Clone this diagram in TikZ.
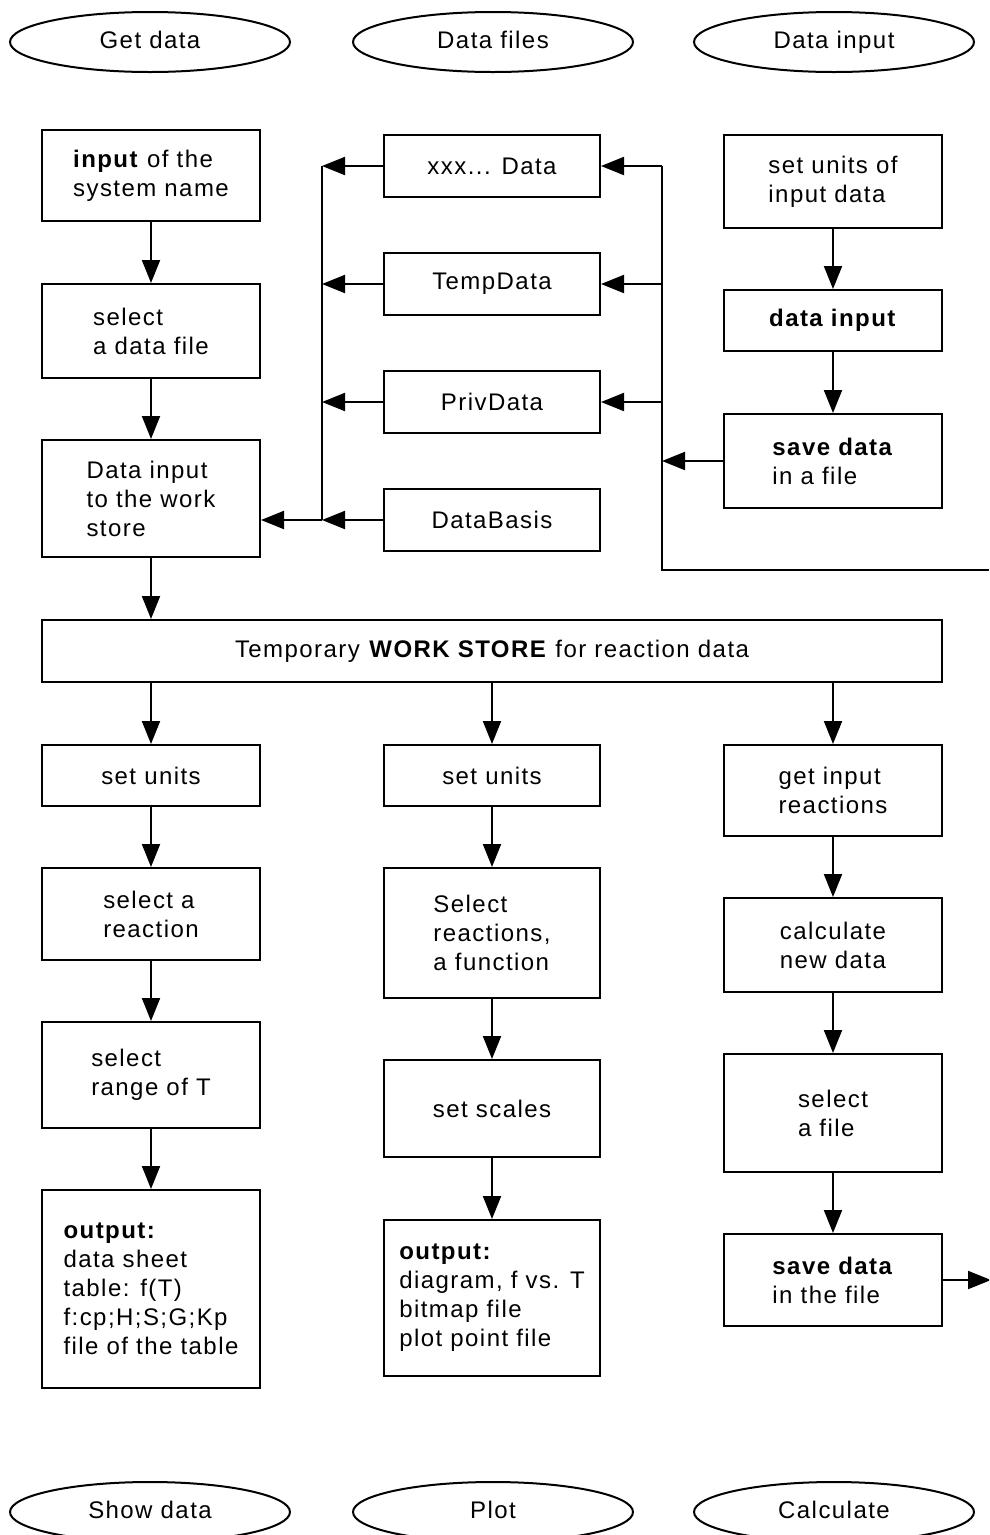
\documentclass[tikz,border=0pt]{standalone}
\usepackage{fontspec}
\setmainfont[LetterSpace=6]{Liberation Sans}
\usetikzlibrary{arrows.meta,shapes.geometric}

\begin{document}
\begin{tikzpicture}[x=1pt, y=-1pt, line width=2pt,
    box/.style={draw, rectangle, minimum width=218pt, inner sep=0pt, align=left,
        font=\fontsize{24}{29}\selectfont},
    oval/.style={draw, ellipse, minimum width=280pt, minimum height=60pt, inner sep=0pt,
        text height=17pt, text depth=5pt, font=\fontsize{24}{29}\selectfont},
    flow/.style={-{Triangle[length=23pt, width=18pt]}}]
    \clip (0,0) rectangle (989,1535);

    % top ovals
    \node[oval] (getdata) at (150,42) {Get data};
    \node[oval] (datafiles) at (493,42) {Data files};
    \node[oval] (datainput) at (834,42) {Data input};

    % get data
    \node[box, minimum height=91pt] (sysname) at (151,175.5) {\textbf{input} of the\\system name};
    \node[box, minimum height=94pt] (selfile) at (151,331) {select\\a data file};
    \node[box, minimum height=117pt] (tostore) at (151,498.5) {Data input\\to the work\\store};
    \draw[flow] (sysname) -- (selfile);
    \draw[flow] (selfile) -- (tostore);

    % data files
    \node[box, minimum width=216pt, minimum height=62pt, align=center] (xxx) at (492,166) {xxx... Data};
    \node[box, minimum width=216pt, minimum height=62pt, align=center] (temp) at (492,284) {TempData};
    \node[box, minimum width=216pt, minimum height=62pt, align=center] (priv) at (492,402) {PrivData};
    \node[box, minimum width=216pt, minimum height=62pt, align=center] (basis) at (492,520) {DataBasis};

    % data input
    \node[box, minimum height=93pt] (setin) at (833,181.5) {set units of\\input data};
    \node[box, minimum height=61pt] (input) at (833,320.5) {\textbf{data input}};
    \node[box, minimum height=94pt] (save) at (833,461) {\textbf{save data}\\in a file};
    \draw[flow] (setin) -- (input);
    \draw[flow] (input) -- (save);

    % left bus
    \coordinate (lbus) at (322,520);
    \draw (xxx -| lbus) -- (lbus);
    \foreach \n in {xxx,temp,priv,basis}
        \draw[flow] (\n.west) -- (\n -| lbus);
    \draw[flow] (lbus) -- (lbus -| tostore.east);

    % right bus
    \coordinate (rbus) at (662,570);
    \coordinate (rend) at (989,570);
    \draw (xxx -| rbus) -- (rbus) -- (rend);
    \foreach \n in {xxx,temp,priv}
        \draw[flow] (\n -| rbus) -- (\n.east);
    \draw[flow] (save.west) -- (save -| rbus);

    % work store
    \node[box, minimum width=900pt, minimum height=62pt, align=center] (store) at (492,651)
        {Temporary \textbf{WORK STORE} for reaction data};
    \draw[flow] (tostore) -- (tostore |- store.north);

    % show data
    \node[box, minimum height=61pt] (unitsa) at (151,775.5) {set units};
    \node[box, minimum height=92pt] (reac) at (151,914) {select a\\reaction};
    \node[box, minimum height=106pt] (range) at (151,1075) {select\\range of T};
    \node[box, minimum height=198pt] (table) at (151,1289)
        {\textbf{output:}\\data sheet\\table: f(T)\\f:cp;H;S;G;Kp\\file of the table};
    \draw[flow] (store.south -| unitsa) -- (unitsa);
    \draw[flow] (unitsa) -- (reac);
    \draw[flow] (reac) -- (range);
    \draw[flow] (range) -- (table);

    % plot
    \node[box, minimum width=216pt, minimum height=61pt] (unitsb) at (492,775.5) {set units};
    \node[box, minimum width=216pt, minimum height=130pt] (func) at (492,933) {Select\\reactions,\\a function};
    \node[box, minimum width=216pt, minimum height=97pt] (scales) at (492,1108.5) {set scales};
    \node[box, minimum width=216pt, minimum height=156pt] (plot) at (492,1298)
        {\textbf{output:}\\diagram, f vs. T\\bitmap file\\plot point file};
    \draw[flow] (store.south -| unitsb) -- (unitsb);
    \draw[flow] (unitsb) -- (func);
    \draw[flow] (func) -- (scales);
    \draw[flow] (scales) -- (plot);

    % calculate
    \node[box, minimum height=91pt] (getin) at (833,790.5) {get input\\reactions};
    \node[box, minimum height=94pt] (calc) at (833,945) {calculate\\new data};
    \node[box, minimum height=118pt] (selfile2) at (833,1113) {select\\a file};
    \node[box, minimum height=92pt] (savefile) at (833,1280) {\textbf{save data}\\in the file};
    \draw[flow] (store.south -| getin) -- (getin);
    \draw[flow] (getin) -- (calc);
    \draw[flow] (calc) -- (selfile2);
    \draw[flow] (selfile2) -- (savefile);
    \coordinate (out) at (991,1280);
    \draw[flow] (savefile.east) -- (out);

    % bottom ovals
    \node[oval] (showdata) at (150,1512) {Show data};
    \node[oval] (plotting) at (493,1512) {Plot};
    \node[oval] (calculate) at (834,1512) {Calculate};
\end{tikzpicture}
\end{document}
